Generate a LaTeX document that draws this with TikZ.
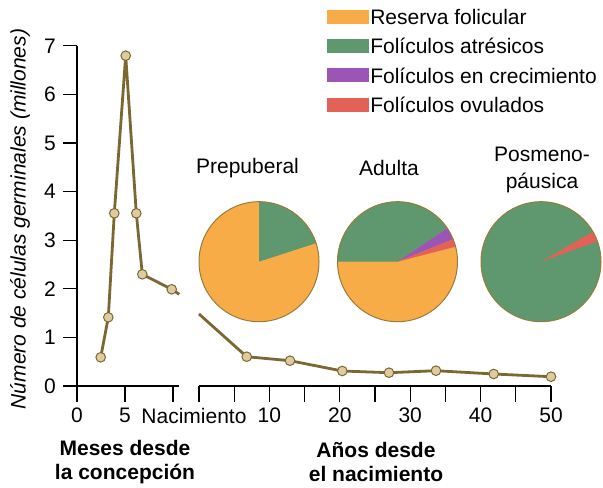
\documentclass[tikz,border=0pt]{standalone}
\usepackage{fontspec}
\setmainfont{Liberation Sans}
\usetikzlibrary{positioning}
\definecolor{reserva}{RGB}{248,172,72}
\definecolor{atresico}{RGB}{95,152,110}
\definecolor{crecim}{RGB}{155,85,180}
\definecolor{ovulado}{RGB}{226,98,88}
\definecolor{linea}{RGB}{122,104,48}
\definecolor{punto}{RGB}{222,204,160}
\definecolor{borde}{RGB}{150,125,60}

\begin{document}
\begin{tikzpicture}[x=0.5pt,y=0.5pt,font=\fontsize{10.5}{12.5}\selectfont,
    axis/.style={line width=1.3pt},
    tick/.style={line width=0.6pt},
    serie/.style={draw=linea,line width=1.4pt,line join=round},
    dato/.style={circle,draw=linea,fill=punto,line width=0.5pt,inner sep=0pt,minimum size=4.8pt},
    borde/.style={draw=borde,line width=0.5pt},
    swatch/.style={minimum width=21pt,minimum height=7pt,inner sep=0pt}]
  \useasboundingbox (0,0) rectangle (603,487);

  % Axes
  \coordinate (o) at (77,101);
  \draw[axis] (77,441.2) -- (o) -- (179,101);
  \draw[axis] (199,101) -- (551,101);
  \foreach \k in {0,...,7}
    \draw[tick] (63,101+48.6*\k) -- (77,101+48.6*\k) node[pos=0,xshift=-6.5pt] {\k};
  \foreach \x in {77,125,173}
    \draw[tick] (\x,101) -- (\x,85);
  \foreach \k in {0,...,10}
    \draw[tick] (199+35.2*\k,101) -- (199+35.2*\k,85);
  \node (l0) at (77,71.3) {0};
  \node (l5) at (125,71.3) {5};
  \node (lnac) at (194,71.3) {Nacimiento};
  \foreach \k in {1,...,5}
    \node at (199+70.4*\k,71.3) {\k0};
  \node[align=center,font=\fontsize{10.5}{12}\selectfont\bfseries] at (125,25) {Meses desde\\la concepción};
  \node[align=center,font=\fontsize{10.5}{12}\selectfont\bfseries] at (376,25) {Años desde\\el nacimiento};
  \node[rotate=90,font=\fontsize{10.5}{12.5}\selectfont\itshape] at (20,268) {Número de células germinales (millones)};

  % Months since conception
  \foreach \n/\x/\y in {1/100.7/129.7,2/108.3/169.7,3/114.3/273.7,4/125.7/431.3,
      5/136.3/273.7,6/142.3/212.7,7/171.7/197.7,8/179.3/192.7}
    \coordinate (m\n) at (\x,\y);
  \draw[serie] (m1) -- (m2) -- (m3) -- (m4) -- (m5) -- (m6) -- (m7) -- (m8);
  \foreach \n in {1,...,7}
    \node[dato] (pm\n) at (m\n) {};

  % Years since birth
  \foreach \n/\x/\y in {0/199/173,1/246.7/130.3,2/290/126.3,3/342.3/116,
      4/389/114.3,5/436/116.3,6/493.7/113,7/551/110.3}
    \coordinate (a\n) at (\x,\y);
  \draw[serie] (a0) -- (a1) -- (a2) -- (a3) -- (a4) -- (a5) -- (a6) -- (a7);
  \foreach \n in {1,...,7}
    \node[dato] (pa\n) at (a\n) {};

  % Pies
  \coordinate (pre) at (259,225.3);
  \coordinate (adu) at (397.5,225.3);
  \coordinate (pos) at (541,225.3);
  \fill[reserva] (pre) circle (60);
  \fill[atresico] (pre) -- ++(18:60) arc (18:90:60) -- cycle;
  \draw[borde] (pre) circle (60);
  \fill[reserva] (adu) circle (60);
  \fill[atresico] (adu) -- ++(34:60) arc (34:180:60) -- cycle;
  \fill[crecim] (adu) -- ++(22:60) arc (22:34:60) -- cycle;
  \fill[ovulado] (adu) -- ++(14.5:60) arc (14.5:22:60) -- cycle;
  \draw[borde] (adu) circle (60);
  \fill[atresico] (pos) circle (60);
  \fill[ovulado] (pos) -- ++(20:60) arc (20:30:60) -- cycle;
  \draw[borde] (pos) circle (60);
  \node (tpre) at (247.5,318.7) {Prepuberal};
  \node (tadu) at (389,318.7) {Adulta};
  \node[align=center,font=\fontsize{10.5}{13.3}\selectfont] (tpos) at (542,317) {Posmeno-\\páusica};

  % Legend
  \foreach \n/\c/\t in {0/reserva/Reserva folicular,1/atresico/Folículos atrésicos,
      2/crecim/Folículos en crecimiento,3/ovulado/Folículos ovulados}
    \node[swatch,fill=\c] (s\n) at (347.5,470.3-29.4*\n) {}
      node[right=0.5pt of s\n,inner sep=0pt] (t\n) {\t};
\end{tikzpicture}
\end{document}
